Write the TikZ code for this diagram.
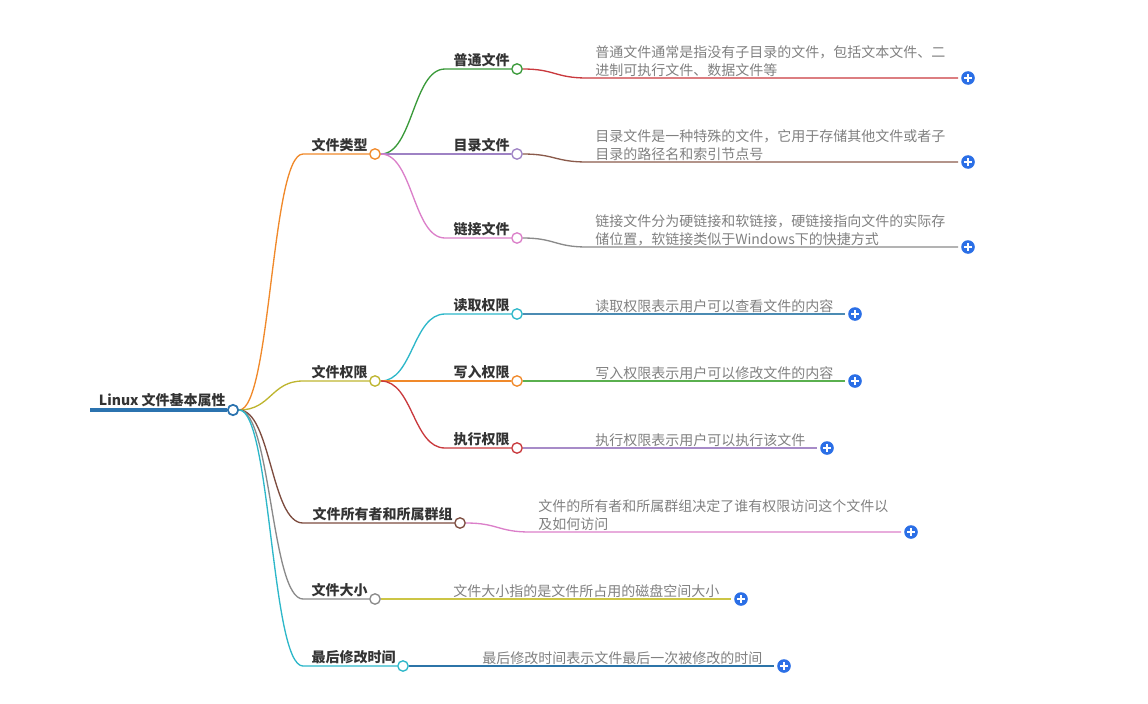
\documentclass[tikz,border=0pt]{standalone}
\usepackage{fontspec}
\setmainfont{Noto Sans CJK SC}
\usepackage{xcolor}
\usepackage{tikz}
\usetikzlibrary{calc}
\definecolor{cRoot}{HTML}{2B73AF}
\definecolor{cOrange}{HTML}{F0892A}
\definecolor{cGreen}{HTML}{3A9A3A}
\definecolor{cRed}{HTML}{C9393D}
\definecolor{cPurple}{HTML}{9E82C4}
\definecolor{cBrown}{HTML}{8A5A4B}
\definecolor{cPink}{HTML}{DB7FC9}
\definecolor{cGray}{HTML}{8A8A8A}
\definecolor{cOlive}{HTML}{BEB52F}
\definecolor{cCyan}{HTML}{2DB7C9}
\definecolor{cSteel}{HTML}{4B8BB3}
\definecolor{cLeaf}{HTML}{5AB04F}
\definecolor{cLilac}{HTML}{A78BC8}
\definecolor{cOwn}{HTML}{7D4C3F}
\definecolor{cYellow}{HTML}{CCC545}
\definecolor{cBlue}{HTML}{2C74A8}
\definecolor{txtdark}{HTML}{333333}
\definecolor{txtgray}{HTML}{808080}
\definecolor{btnblue}{HTML}{2B6FE6}

\begin{document}
\begin{tikzpicture}[
  x=0.75pt, y=-0.75pt,
  branch/.style={line width=1pt},
  rootline/.style={line width=2.4pt},
  knob/.style={circle, draw=#1, fill=white, line width=1pt, minimum size=7.8pt, inner sep=0pt},
  topic/.style={anchor=south east, inner sep=0pt, text=txtdark, font=\bfseries\fontsize{10.5}{13}\selectfont},
  desc/.style={anchor=south west, inner sep=0pt, align=left, text=txtgray, font=\fontsize{10.5}{13.5}\selectfont},
  addbtn/.style={circle, fill=btnblue, minimum size=10.2pt, inner sep=0pt,
    path picture={\draw[white, line width=1.1pt]
      ($(path picture bounding box.center)+(-2.7pt,0)$) -- ++(5.4pt,0)
      ($(path picture bounding box.center)+(0,-2.7pt)$) -- ++(0,5.4pt);}}
]
  \useasboundingbox (0,0) rectangle (1148,703);

  % root
  \coordinate (roots) at (90,410);
  \node[knob=cRoot, line width=1.3pt] (root) at (233,410) {};
  \node[topic] (roottxt) at (226,407) {Linux 文件基本属性};
  \draw[rootline, cRoot] (roots) -- (root.west);

  % first level
  \coordinate (ftypek) at (303,154);
  \coordinate (fpermk) at (303,381);
  \coordinate (fownk) at (303,523);
  \coordinate (fsizek) at (303,599);
  \coordinate (fmtimek) at (303,666);
  \node[knob=cOrange] (ftype) at (375,154) {};
  \node[knob=cOlive] (fperm) at (375,381) {};
  \node[knob=cOwn] (fown) at (460,523) {};
  \node[knob=cGray] (fsize) at (375,599) {};
  \node[knob=cCyan] (fmtime) at (403,666) {};
  \node[topic] (ftypetxt) at (368,152) {文件类型};
  \node[topic] (fpermtxt) at (368,379) {文件权限};
  \node[topic] (fowntxt) at (453,521) {文件所有者和所属群组};
  \node[topic] (fsizetxt) at (368,597) {文件大小};
  \node[topic] (fmtimetxt) at (396,664) {最后修改时间};
  \draw[branch, cOrange] (root.east) .. controls +(32,0) and +(-32,0) .. (ftypek) -- (ftype.west);
  \draw[branch, cOlive] (root.east) .. controls +(32,0) and +(-32,0) .. (fpermk) -- (fperm.west);
  \draw[branch, cOwn] (root.east) .. controls +(32,0) and +(-32,0) .. (fownk) -- (fown.west);
  \draw[branch, cGray] (root.east) .. controls +(32,0) and +(-32,0) .. (fsizek) -- (fsize.west);
  \draw[branch, cCyan] (root.east) .. controls +(32,0) and +(-32,0) .. (fmtimek) -- (fmtime.west);

  % second level
  \coordinate (plaink) at (445,69);
  \coordinate (dirk) at (445,154);
  \coordinate (linkk) at (445,238);
  \coordinate (readk) at (445,314);
  \coordinate (writek) at (445,381);
  \coordinate (execk) at (445,448);
  \node[knob=cGreen] (plain) at (517,69) {};
  \node[knob=cPurple] (dir) at (517,154) {};
  \node[knob=cPink] (link) at (517,238) {};
  \node[knob=cCyan] (read) at (517,314) {};
  \node[knob=cOrange] (write) at (517,381) {};
  \node[knob=cRed] (exec) at (517,448) {};
  \node[topic] (plaintxt) at (510,67) {普通文件};
  \node[topic] (dirtxt) at (510,152) {目录文件};
  \node[topic] (linktxt) at (510,236) {链接文件};
  \node[topic] (readtxt) at (510,312) {读取权限};
  \node[topic] (writetxt) at (510,379) {写入权限};
  \node[topic] (exectxt) at (510,446) {执行权限};
  \draw[branch, cGreen] (ftype.east) .. controls +(32,0) and +(-32,0) .. (plaink) -- (plain.west);
  \draw[branch, cPurple] (ftype.east) .. controls +(32,0) and +(-32,0) .. (dirk) -- (dir.west);
  \draw[branch, cPink] (ftype.east) .. controls +(32,0) and +(-32,0) .. (linkk) -- (link.west);
  \draw[branch, cCyan] (fperm.east) .. controls +(32,0) and +(-32,0) .. (readk) -- (read.west);
  \draw[branch, cOrange] (fperm.east) .. controls +(32,0) and +(-32,0) .. (writek) -- (write.west);
  \draw[branch, cRed] (fperm.east) .. controls +(32,0) and +(-32,0) .. (execk) -- (exec.west);

  % descriptions
  \coordinate (plaindk) at (587,78);   \coordinate (plainend) at (958,78);
  \coordinate (dirdk) at (587,162);    \coordinate (dirend) at (958,162);
  \coordinate (linkdk) at (587,247);   \coordinate (linkend) at (958,247);
  \coordinate (readdk) at (587,314);   \coordinate (readend) at (845,314);
  \coordinate (writedk) at (587,381);  \coordinate (writeend) at (845,381);
  \coordinate (execdk) at (587,448);   \coordinate (execend) at (817,448);
  \coordinate (fowndk) at (530,532);   \coordinate (fownend) at (901,532);
  \coordinate (fsizedk) at (445,599);  \coordinate (fsizeend) at (731,599);
  \coordinate (fmtimedk) at (474,666); \coordinate (fmtimeend) at (774,666);
  \node[desc] (plaindesc) at (595,77) {普通文件通常是指没有子目录的文件，包括文本文件、二\\进制可执行文件、数据文件等};
  \node[desc] (dirdesc) at (595,161) {目录文件是一种特殊的文件，它用于存储其他文件或者子\\目录的路径名和索引节点号};
  \node[desc] (linkdesc) at (595,246) {链接文件分为硬链接和软链接，硬链接指向文件的实际存\\储位置，软链接类似于Windows下的快捷方式};
  \node[desc] (readdesc) at (595,313) {读取权限表示用户可以查看文件的内容};
  \node[desc] (writedesc) at (595,380) {写入权限表示用户可以修改文件的内容};
  \node[desc] (execdesc) at (595,447) {执行权限表示用户可以执行该文件};
  \node[desc] (fowndesc) at (538,531) {文件的所有者和所属群组决定了谁有权限访问这个文件以\\及如何访问};
  \node[desc] (fsizedesc) at (453,598) {文件大小指的是文件所占用的磁盘空间大小};
  \node[desc] (fmtimedesc) at (482,665) {最后修改时间表示文件最后一次被修改的时间};
  \draw[branch, cRed] (plain.east) .. controls +(32,0) and +(-32,0) .. (plaindk) -- (plainend);
  \draw[branch, cBrown] (dir.east) .. controls +(32,0) and +(-32,0) .. (dirdk) -- (dirend);
  \draw[branch, cGray] (link.east) .. controls +(32,0) and +(-32,0) .. (linkdk) -- (linkend);
  \draw[branch, cSteel] (read.east) -- (readdk) -- (readend);
  \draw[branch, cLeaf] (write.east) -- (writedk) -- (writeend);
  \draw[branch, cLilac] (exec.east) -- (execdk) -- (execend);
  \draw[branch, cPink] (fown.east) .. controls +(32,0) and +(-32,0) .. (fowndk) -- (fownend);
  \draw[branch, cYellow] (fsize.east) -- (fsizedk) -- (fsizeend);
  \draw[branch, cBlue] (fmtime.east) -- (fmtimedk) -- (fmtimeend);

  % expand buttons
  \node[addbtn] (plainbtn) at (968,78) {};
  \node[addbtn] (dirbtn) at (968,162) {};
  \node[addbtn] (linkbtn) at (968,247) {};
  \node[addbtn] (readbtn) at (855,314) {};
  \node[addbtn] (writebtn) at (855,381) {};
  \node[addbtn] (execbtn) at (827,448) {};
  \node[addbtn] (fownbtn) at (911,532) {};
  \node[addbtn] (fsizebtn) at (741,599) {};
  \node[addbtn] (fmtimebtn) at (784,666) {};
\end{tikzpicture}
\end{document}
